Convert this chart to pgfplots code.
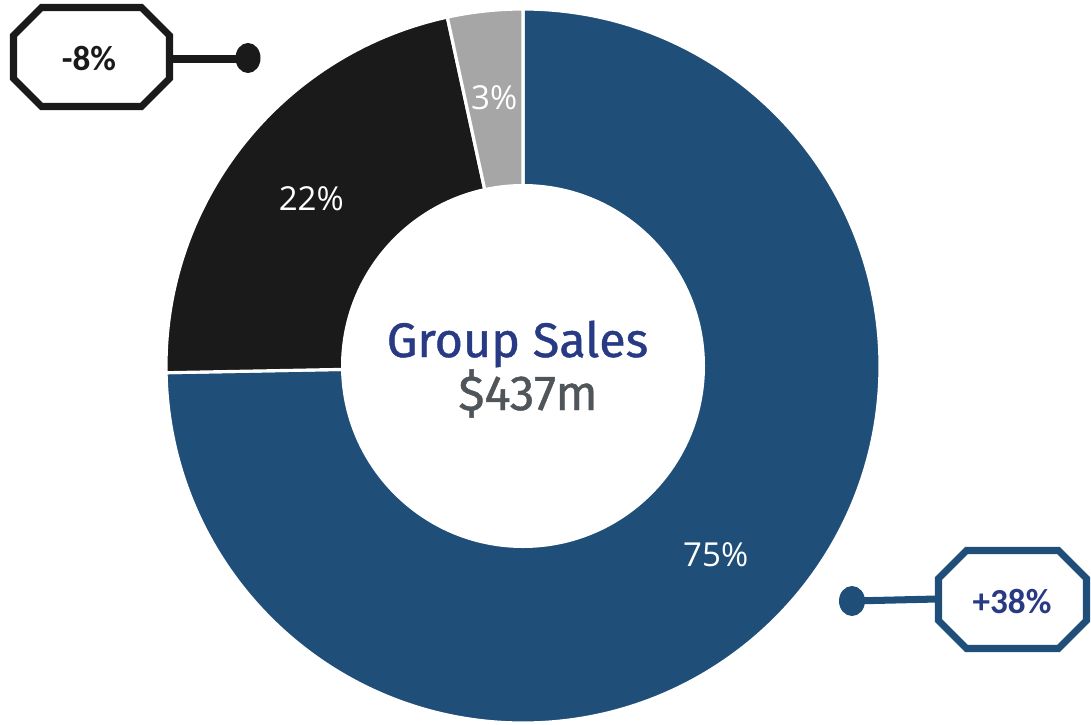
\documentclass[border=0pt]{standalone}
\usepackage{fontspec}
\setmainfont{Open Sans}
\newfontfamily\centerfont{Fira Sans}[FakeBold=0.9]
\newfontfamily\calloutfont{Carlito}
\usepackage{pgfplots}
\usepackage{pgfplotstable}
\pgfplotsset{compat=1.18}
\definecolor{cblue}{HTML}{1F4E78}
\definecolor{cblack}{HTML}{1A1A1A}
\definecolor{cgray}{HTML}{A6A6A6}
\definecolor{cindigo}{HTML}{283A84}
\definecolor{cslate}{HTML}{50555A}

% share of group sales, clockwise from 12 o'clock
\pgfplotstableread{
value label col
74.7  75    cblue
21.9  22    cblack
3.4   3     cgray
}\slices

% octagon callout: x0 x1 y0 y1 (pixel units, y down), chamfer
\newcommand\octagon[6][]{%
  \draw[#1] (axis cs:#2+#6,#4) -- (axis cs:#3-#6,#4) -- (axis cs:#3,#4+#6)
    -- (axis cs:#3,#5-#6) -- (axis cs:#3-#6,#5) -- (axis cs:#2+#6,#5)
    -- (axis cs:#2,#5-#6) -- (axis cs:#2,#4+#6) -- cycle;}

\begin{document}
\begin{tikzpicture}
% angles of each slice
\xdef\curang{90}
\foreach \i in {0,1,2}{
  \pgfplotstablegetelem{\i}{value}\of\slices \let\v\pgfplotsretval
  \pgfmathsetmacro{\e}{\curang-3.6*\v}
  \pgfmathsetmacro{\m}{(\curang+\e)/2}
  \expandafter\xdef\csname sa\i\endcsname{\curang}
  \expandafter\xdef\csname ea\i\endcsname{\e}
  \expandafter\xdef\csname ma\i\endcsname{\m}
  \pgfplotstablegetelem{\i}{col}\of\slices
  \expandafter\xdef\csname col\i\endcsname{\pgfplotsretval}
  \pgfplotstablegetelem{\i}{label}\of\slices
  \expandafter\xdef\csname lab\i\endcsname{\pgfplotsretval}
  \xdef\curang{\e}
}
\begin{axis}[
  scale only axis, width=10.91cm, height=7.24cm,
  xmin=0, xmax=1091, ymin=0, ymax=724, y dir=reverse,
  hide axis, clip=true,
]
\addplot[draw=none] coordinates {(0,0) (1091,724)};

\pgfplotsinvokeforeach{0,1,2}{
  \edef\wedge{\noexpand\fill[\csname col#1\endcsname, draw=white, line width=0.9pt]
    (axis cs:523,366) -- ++(\csname sa#1\endcsname:3.57cm)
    arc[start angle=\csname sa#1\endcsname, end angle=\csname ea#1\endcsname, radius=3.57cm] -- cycle;}
  \wedge
}
\fill[white] (axis cs:523,366) circle[radius=1.82cm];

\pgfplotsinvokeforeach{0,1,2}{
  \edef\lbl{\noexpand\node[text=white, font=\noexpand\fontsize{9.4}{11}\noexpand\selectfont,
      shift={(\csname ma#1\endcsname:2.70cm)}] at (axis cs:523,366)
      {\csname lab#1\endcsname\noexpand\%};}
  \lbl
}

% centre text
\node[anchor=base, text=cindigo, font=\centerfont\fontsize{13.8}{16}\selectfont]
  at (axis cs:517.5,357) {Group Sales};
\node[anchor=base, text=cslate, font=\centerfont\fontsize{14}{16}\selectfont]
  at (axis cs:528,410) {\$437m};

% callouts
\octagon[cblack, line width=2pt, fill=white, line join=miter]{13.5}{169.5}{7.5}{106.5}{28}
\draw[cblack, line width=2pt] (axis cs:170,59) -- (axis cs:248,59);
\fill[cblack] (axis cs:248,58) ellipse[x radius=0.125cm, y radius=0.15cm];
\node[font=\calloutfont\bfseries\fontsize{10}{12}\selectfont, text=cblack]
  at (axis cs:89,59) {-8\%};

\octagon[cblue, line width=2pt, fill=white, line join=miter]{938.5}{1086.5}{550.5}{648.5}{28}
\draw[cblue, line width=2pt] (axis cs:852,601) -- (axis cs:937,599);
\fill[cblue] (axis cs:852,601) ellipse[x radius=0.13cm, y radius=0.15cm];
\node[font=\calloutfont\bfseries\fontsize{10}{12}\selectfont, text=cindigo]
  at (axis cs:1012,602) {+38\%};
\end{axis}
\end{tikzpicture}
\end{document}
